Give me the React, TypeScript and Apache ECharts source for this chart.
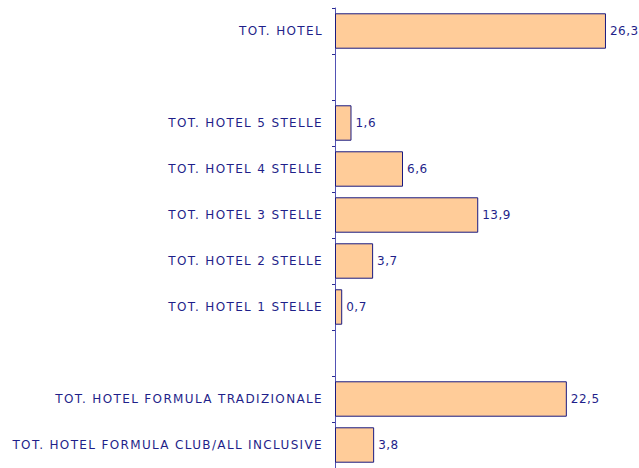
import React, { useEffect, useRef } from "react";
import * as echarts from "echarts";

const categories = [
  "TOT. HOTEL",
  "",
  "TOT. HOTEL 5 STELLE",
  "TOT. HOTEL 4 STELLE",
  "TOT. HOTEL 3 STELLE",
  "TOT. HOTEL 2 STELLE",
  "TOT. HOTEL 1 STELLE",
  " ",
  "TOT. HOTEL FORMULA TRADIZIONALE",
  "TOT. HOTEL FORMULA CLUB/ALL INCLUSIVE",
];

const values: (number | null)[] = [26.3, null, 1.6, 6.6, 13.9, 3.7, 0.7, null, 22.5, 3.8];

const NAVY = "#1f1f8a";

export default function App() {
  const ref = useRef<HTMLDivElement>(null);

  useEffect(() => {
    document.body.style.margin = "0";
    if (!ref.current) return;
    const chart = echarts.init(ref.current, undefined, { renderer: "svg" });
    chart.setOption({
      animation: false,
      backgroundColor: "#ffffff",
      textStyle: { fontFamily: "DejaVu Sans" },
      grid: { left: 335, top: 8, height: 460, width: 288.5, containLabel: false },
      xAxis: {
        type: "value",
        min: 0,
        max: 28,
        show: false,
        splitLine: { show: false },
      },
      yAxis: {
        type: "category",
        inverse: true,
        data: categories,
        axisLine: { show: true, lineStyle: { color: "#5252b4", width: 1 } },
        axisTick: { show: true, length: 3, alignWithLabel: false, lineStyle: { color: "#2a2a92" } },
        axisLabel: {
          margin: 12,
          color: NAVY,
          fontSize: 12,
          fontFamily: "DejaVu Sans",
        },
        splitLine: { show: false },
      },
      series: [
        {
          type: "bar",
          data: values,
          barCategoryGap: "23%",
          itemStyle: { color: "#FFCC99", borderColor: "#1a1a80", borderWidth: 1 },
          label: {
            show: true,
            position: "right",
            distance: 4,
            color: NAVY,
            fontSize: 12,
            fontFamily: "Verdana, DejaVu Sans",
            formatter: (p: any) => (p.value == null ? "" : String(p.value).replace(".", ",")),
          },
        },
      ],
    });
    return () => chart.dispose();
  }, []);

  return (
    <>
      <style>{`.chartbox text { letter-spacing: 1.35px; } .chartbox text[style*="Verdana"] { letter-spacing: 0.5px; }`}</style>
      <div className="chartbox" ref={ref} style={{ width: 639, height: 468 }} />
    </>
  );
}
